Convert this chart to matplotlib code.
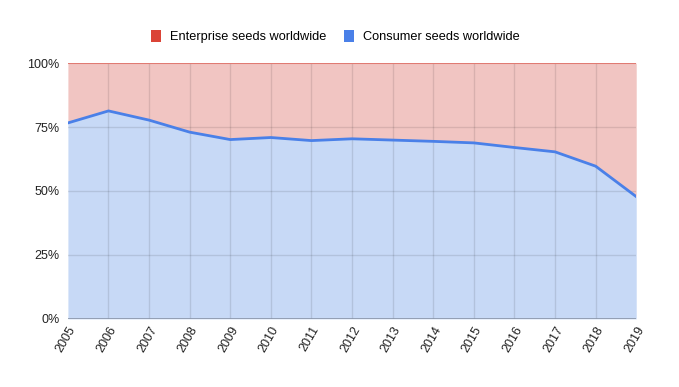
import matplotlib.pyplot as plt
from matplotlib.patches import Patch
from matplotlib.ticker import FuncFormatter

plt.rcParams['font.family'] = ['Liberation Sans', 'DejaVu Sans']

years = list(range(2005, 2020))
consumer = [76.6, 81.3, 77.7, 73.0, 70.1, 70.9, 69.7, 70.4, 69.9, 69.4, 68.8, 67.0, 65.3, 59.7, 47.8]
enterprise = [100 - c for c in consumer]

blue = '#4a80e8'
red = '#db4437'

fig = plt.figure(figsize=(6.79, 3.87), dpi=100)
ax = fig.add_axes([0.1, 0.176, 0.837, 0.661])

top = [c + e for c, e in zip(consumer, enterprise)]
ax.fill_between(years, 0, consumer, color='#c7d9f6', lw=0, zorder=1)
ax.fill_between(years, consumer, top, color='#f1c5c2', lw=0, zorder=1)

for y in [25, 50, 75]:
    ax.axhline(y, color='#000000', alpha=0.1, lw=1, zorder=2)
for x in years[1:-1]:
    ax.axvline(x, color='#000000', alpha=0.1, lw=1, zorder=2)

ax.plot(years, top, color='#e07b73', lw=1.5, zorder=3)
ax.plot(years, consumer, color=blue, lw=2, zorder=3)
ax.axhline(0, color='#8a95a8', lw=1.2, zorder=3)

ax.set_xlim(2005, 2019)
ax.set_ylim(0, 100)
ax.set_yticks([0, 25, 50, 75, 100])
ax.yaxis.set_major_formatter(FuncFormatter(lambda v, p: f"{int(v)}%"))
ax.set_xticks(years)
ax.set_xticklabels([str(y) for y in years], rotation=60, ha='right', rotation_mode='anchor')
ax.tick_params(axis='both', length=0, labelsize=9, colors='#222222')
ax.tick_params(axis='x', pad=4)
ax.tick_params(axis='y', pad=6)
for s in ax.spines.values():
    s.set_visible(False)

handles = [Patch(facecolor=red, edgecolor='none', label='Enterprise seeds worldwide'),
           Patch(facecolor=blue, edgecolor='none', label='Consumer seeds worldwide')]
fig.legend(handles=handles, loc='center', bbox_to_anchor=(0.494, 0.905), ncol=2, frameon=False,
           fontsize=9.2, handlelength=0.8, handleheight=1.0, handletextpad=0.7, columnspacing=1.4)

plt.savefig('out.png', dpi=100)
